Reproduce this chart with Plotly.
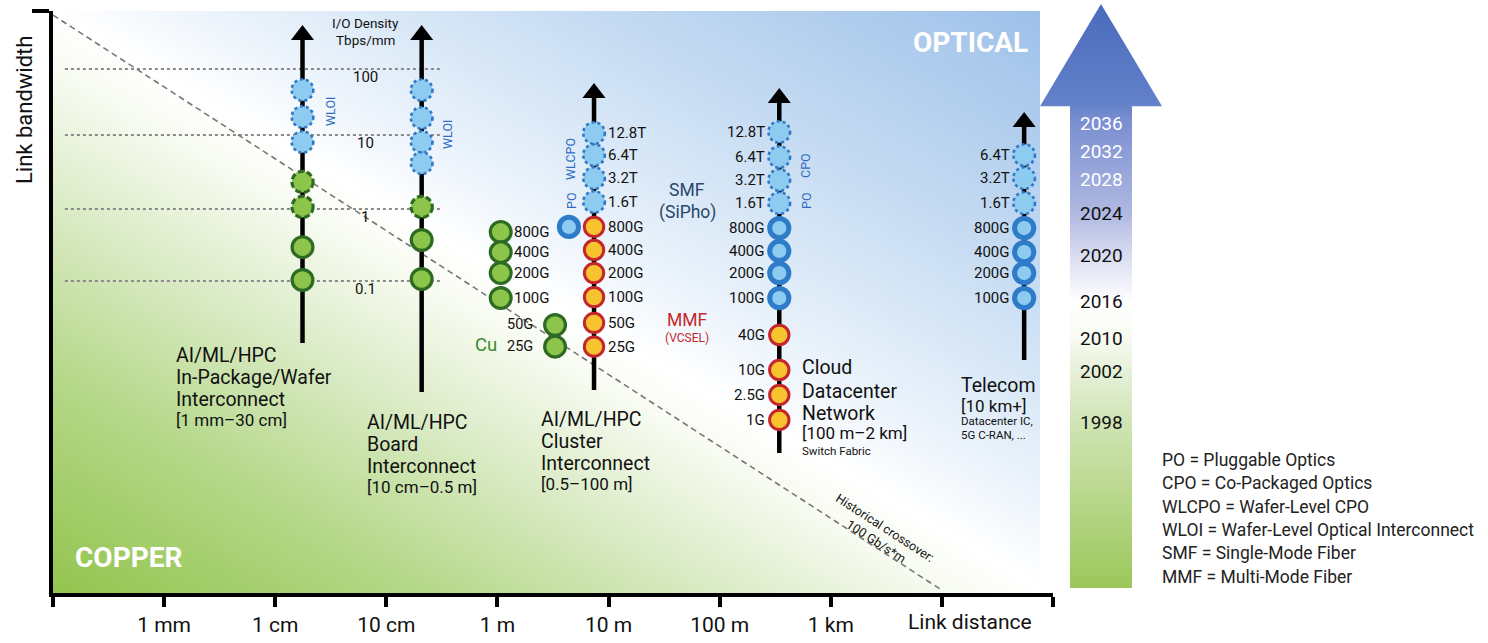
import numpy as np
import plotly.graph_objects as go

W, H = 1488, 643

# ---------------- data ----------------
# x axis: link distance in metres (drawn on a log10 scale)
axis_tick_m = [1e-4, 1e-3, 1e-2, 1e-1, 1, 10, 100, 1e3, 1e4, 1e5]
axis_tick_text = ["", "1 mm", "1 cm", "10 cm", "1 m", "10 m", "100 m", "1 km", "", ""]

# y axis: position on the "link bandwidth" axis, in doublings relative to 100 Gb/s
Y_MIN, Y_MAX = -12.35, 12.10

io_density_labels = ["100", "10", "1", "0.1"]          # Tbps/mm
io_density_level = [9.66, 6.89, 3.78, 0.76]
io_density_span_m = [1.28e-4, 0.304]
io_density_label_m = 0.0643

crossover_m = [1e-4, 1e4]                               # 100 Gb/s*m line
crossover_level = [11.93, -12.23]

wafer_m = 0.0176
wafer_level = [8.78, 7.65, 6.60, 4.92, 3.87, 2.18, 0.80]
wafer_kind = ["wloi", "wloi", "wloi", "cu_next", "cu_next", "cu", "cu"]
wafer_arrow = [-1.85, 11.09]

board_m = 0.208
board_level = [8.78, 7.61, 6.60, 5.71, 3.87, 2.48, 0.84]
board_kind = ["wloi", "wloi", "wloi", "wloi", "cu_next", "cu", "cu"]
board_arrow = [-3.91, 11.09]

cluster_cu_m = 1.07
cluster_cu_labels = ["800G", "400G", "200G", "100G"]
cluster_cu_level = [2.82, 1.97, 1.09, 0.04]

cluster_cu_short_m = 3.3
cluster_cu_short_labels = ["50G", "25G"]
cluster_cu_short_level = [-1.09, -2.0]

cluster_po_m = 4.4
cluster_po_level = [3.03]

cluster_m = 7.4
cluster_labels = ["12.8T", "6.4T", "3.2T", "1.6T", "800G", "400G", "200G", "100G", "50G", "25G"]
cluster_level = [6.97, 6.05, 5.08, 4.08, 3.03, 2.06, 1.09, 0.08, -1.0, -2.0]
cluster_kind = ["cpo"] * 4 + ["mmf"] * 6
cluster_arrow = [-3.82, 8.66]

dc_m = 344
dc_labels = ["12.8T", "6.4T", "3.2T", "1.6T", "800G", "400G", "200G", "100G", "40G", "10G", "2.5G", "1G"]
dc_level = [7.02, 5.97, 5.0, 4.03, 2.98, 2.02, 1.09, 0.04, -1.51, -2.98, -4.03, -5.08]
dc_kind = ["cpo"] * 4 + ["smf"] * 4 + ["mmf"] * 4
dc_arrow = [-6.47, 8.45]

telecom_m = 5.5e4
telecom_labels = ["6.4T", "3.2T", "1.6T", "800G", "400G", "200G", "100G"]
telecom_level = [6.05, 5.08, 4.03, 2.98, 1.97, 1.09, 0.04]
telecom_kind = ["cpo"] * 3 + ["smf"] * 4
telecom_arrow = [-2.56, 7.44]

years = ["2036", "2032", "2028", "2024", "2020", "2016", "2010", "2002", "1998"]
year_pos = [0.795, 0.747, 0.699, 0.642, 0.570, 0.491, 0.428, 0.370, 0.284]
year_white = [True, True, True, False, False, False, False, False, False]

glossary = ["PO = Pluggable Optics", "CPO = Co-Packaged Optics", "WLCPO = Wafer-Level CPO",
            "WLOI = Wafer-Level Optical Interconnect", "SMF = Single-Mode Fiber", "MMF = Multi-Mode Fiber"]

# ---------------- styles ----------------
STY = {
    "cu":      dict(fill="#8cc44c", line="#2d6a22", lw=3.2, dash="solid", r=10.4),
    "cu_next": dict(fill="#8cc44c", line="#2d6a22", lw=3.2, dash="6px,3px", r=10.6),
    "wloi":    dict(fill="#8ecbf1", line="#2f78c6", lw=2.6, dash="dot", r=10.8),
    "cpo":     dict(fill="#8ecbf1", line="#2f78c6", lw=2.6, dash="dot", r=10.8),
    "smf":     dict(fill="#8ecbf1", line="#2e7bc9", lw=5, dash="solid", r=9.6),
    "mmf":     dict(fill="#f7c32f", line="#c3272d", lw=3, dash="solid", r=9.7),
}
FONT = "Roboto"
BLUE_TXT = "#2f6dc3"

L = np.log10

fig = go.Figure()

# background gradient (copper -> optical)
gx = np.linspace(-4.1, 5.1, 80)
gy = np.linspace(Y_MIN - 0.2, Y_MAX + 0.2, 60)
U = (gx + 4) / 9.0
V = (gy - Y_MIN) / (Y_MAX - Y_MIN)
Z = np.clip((U[None, :] + V[:, None]) / 2.0, 0, 1)
fig.add_trace(go.Heatmap(
    x=gx, y=gy, z=Z, zmin=0, zmax=1, zsmooth="best", showscale=False, hoverinfo="skip",
    colorscale=[[0, "#93c44e"], [0.18, "#b3d786"], [0.33, "#d9eac3"], [0.45, "#f7fbf1"],
                [0.5, "#ffffff"], [0.58, "#ebf3fb"], [0.75, "#c8ddf3"], [1, "#9cc0e9"]],
))

# I/O density dotted guides
for lv in io_density_level:
    fig.add_trace(go.Scatter(x=L(io_density_span_m), y=[lv, lv], mode="lines",
                             line=dict(color="#8a8a8a", width=2, dash="dot"), hoverinfo="skip"))

# historical crossover line
fig.add_trace(go.Scatter(x=L(crossover_m), y=crossover_level, mode="lines",
                         line=dict(color="#777777", width=1.6, dash="6px,4px"), hoverinfo="skip"))

# vertical roadmap arrows
for xm, (lo, hi) in [(wafer_m, wafer_arrow), (board_m, board_arrow), (cluster_m, cluster_arrow),
                     (dc_m, dc_arrow), (telecom_m, telecom_arrow)]:
    fig.add_trace(go.Scatter(x=[L(xm), L(xm)], y=[lo, hi], mode="lines",
                             line=dict(color="#000000", width=4.5), hoverinfo="skip"))
    fig.add_trace(go.Scatter(x=[L(xm)], y=[hi], mode="markers",
                             marker=dict(symbol="triangle-up", size=20, color="#000000", line=dict(width=0)),
                             hoverinfo="skip"))

# big year arrow on the right (vertical gradient)
ax_pts = [(0.246, 0), (0.754, 0), (0.754, 0.825), (1, 0.825), (0.5, 1), (0, 0.825), (0.246, 0.825), (0.246, 0)]
fig.add_trace(go.Scatter(
    x=[p[0] for p in ax_pts], y=[p[1] for p in ax_pts], xaxis="x2", yaxis="y2",
    mode="lines", line=dict(width=0), fill="toself", hoverinfo="skip",
    fillgradient=dict(type="vertical", start=0, stop=1,
                      colorscale=[[0, "#9bc75a"], [0.28, "#cfe4b3"], [0.37, "#e6f0d8"], [0.43, "#f8fbf3"],
                                  [0.49, "#ffffff"], [0.57, "#d9dcf1"], [0.64, "#b0b9e2"], [0.80, "#7a8fd1"],
                                  [0.83, "#6381c9"], [1, "#4a6bbd"]]),
))

# ---------------- circles ----------------
shapes = []


def circ(xm, lv, kind):
    s = STY[kind]
    r = s["r"]
    shapes.append(dict(type="circle", xref="x", yref="y", xsizemode="pixel", ysizemode="pixel",
                       xanchor=L(xm), yanchor=lv, x0=-r, x1=r, y0=-r, y1=r,
                       fillcolor=s["fill"], line=dict(color=s["line"], width=s["lw"], dash=s["dash"]),
                       layer="above"))


for lv, k in zip(wafer_level, wafer_kind):
    circ(wafer_m, lv, k)
for lv, k in zip(board_level, board_kind):
    circ(board_m, lv, k)
for lv in cluster_cu_level:
    circ(cluster_cu_m, lv, "cu")
for lv in cluster_cu_short_level:
    circ(cluster_cu_short_m, lv, "cu")
for lv in cluster_po_level:
    circ(cluster_po_m, lv, "smf")
for lv, k in zip(cluster_level, cluster_kind):
    circ(cluster_m, lv, k)
for lv, k in zip(dc_level, dc_kind):
    circ(dc_m, lv, k)
for lv, k in zip(telecom_level, telecom_kind):
    circ(telecom_m, lv, k)

# ---------------- text ----------------
ann = []


def pt(txt, x, y, size, color="#111111", xanchor="left", angle=0, bold=False):
    if bold:
        txt = "<b>" + txt + "</b>"
    ann.append(dict(text=txt, x=x / W, y=1 - y / H, xref="paper", yref="paper", xanchor=xanchor,
                    yanchor="middle", showarrow=False, textangle=angle,
                    font=dict(family=FONT, size=size, color=color)))


def dt(txt, xm, lv, size, xanchor, xshift, yshift=0, color="#111111"):
    ann.append(dict(text=txt, x=L(xm), y=lv, xref="x", yref="y", xanchor=xanchor, yanchor="middle",
                    xshift=xshift, yshift=yshift, showarrow=False,
                    font=dict(family=FONT, size=size, color=color)))


# axis titles / regions
pt("Link bandwidth", 24, 110, 22, xanchor="center", angle=-90)
pt("Link distance", 970, 622, 21, xanchor="center")
pt("OPTICAL", 970, 42, 28, color="#ffffff", xanchor="center", bold=True)
pt("COPPER", 128, 557, 28, color="#ffffff", xanchor="center", bold=True)
pt("Historical crossover:<br>100 Gb/s*m", 881, 534, 12.5, xanchor="center", angle=33)

# I/O density
pt("I/O Density", 365, 23, 13.5, xanchor="center")
pt("Tbps/mm", 365, 40, 13.5, xanchor="center")
for t, lv in zip(io_density_labels, io_density_level):
    dt(t, io_density_label_m, lv, 15, "center", 0, yshift=-8)

# rotated technology tags
pt("WLOI", 330, 112, 12.5, color=BLUE_TXT, xanchor="center", angle=-90)
pt("WLOI", 447, 135, 12.5, color=BLUE_TXT, xanchor="center", angle=-90)
pt("WLCPO", 571, 159, 12.5, color=BLUE_TXT, xanchor="center", angle=-90)
pt("PO", 571, 201, 12.5, color=BLUE_TXT, xanchor="center", angle=-90)
pt("CPO", 806, 166, 12.5, color=BLUE_TXT, xanchor="center", angle=-90)
pt("PO", 806, 201, 12.5, color=BLUE_TXT, xanchor="center", angle=-90)

pt("SMF", 687, 190, 17.5, color="#29486b", xanchor="center")
pt("(SiPho)", 687, 212, 17.5, color="#29486b", xanchor="center")
pt("MMF", 687, 320, 17.5, color="#c3272d", xanchor="center")
pt("(VCSEL)", 687, 338, 12, color="#c3272d", xanchor="center")
pt("Cu", 486, 345, 18.5, color="#3b8b2b", xanchor="center")

# bandwidth labels
for t, lv in zip(cluster_cu_labels, cluster_cu_level):
    dt(t, cluster_cu_m, lv, 15, "left", 11)
for t, lv in zip(cluster_cu_short_labels, cluster_cu_short_level):
    dt(t, cluster_cu_short_m, lv, 14.5, "right", -20)
for t, lv in zip(cluster_labels, cluster_level):
    dt(t, cluster_m, lv, 15, "left", 12)
for t, lv in zip(dc_labels, dc_level):
    dt(t, dc_m, lv, 15, "right", -12)
for t, lv in zip(telecom_labels, telecom_level):
    dt(t, telecom_m, lv, 15, "right", -12)

# column descriptions
for t, y, s in [("AI/ML/HPC", 355, 19.5), ("In-Package/Wafer", 377, 19.5), ("Interconnect", 399, 19.5),
                ("[1 mm\u201330 cm]", 420, 17)]:
    pt(t, 174, y, s)
for t, y, s in [("AI/ML/HPC", 422, 19.5), ("Board", 444, 19.5), ("Interconnect", 466, 19.5),
                ("[10 cm\u20130.5 m]", 487, 17)]:
    pt(t, 365, y, s)
for t, y, s in [("AI/ML/HPC", 419, 19.5), ("Cluster", 441, 19.5), ("Interconnect", 463, 19.5),
                ("[0.5\u2013100 m]", 484, 17)]:
    pt(t, 539, y, s)
for t, y, s in [("Cloud", 367, 19.5), ("Datacenter", 391, 19.5), ("Network", 413, 19.5),
                ("[100 m\u20132 km]", 433, 17), ("Switch Fabric", 451, 11.5)]:
    pt(t, 800, y, s)
for t, y, s in [("Telecom", 385, 19.5), ("[10 km+]", 406, 17), ("Datacenter IC,", 421, 11.5),
                ("5G C-RAN, ...", 435, 11.5)]:
    pt(t, 959, y, s)

# years on the arrow
for t, p, wht in zip(years, year_pos, year_white):
    ann.append(dict(text=t, x=0.5, y=p, xref="x2", yref="y2", xanchor="center", yanchor="middle",
                    showarrow=False, font=dict(family=FONT, size=19, color="#ffffff" if wht else "#111111")))

# glossary
for i, t in enumerate(glossary):
    pt(t, 1160, 460 + i * 23.3, 17.5, color="#222222")

fig.update_layout(
    width=W, height=H, margin=dict(l=0, r=0, t=0, b=0),
    paper_bgcolor="#ffffff", plot_bgcolor="#ffffff", showlegend=False, hovermode=False,
    xaxis=dict(domain=[53 / W, 1053 / W], range=[-4, 5], anchor="y",
               showgrid=False, zeroline=False, showline=True, linewidth=4, linecolor="#000000",
               ticks="outside", ticklen=10, tickwidth=3.5, tickcolor="#000000",
               tickvals=L(axis_tick_m), ticktext=axis_tick_text,
               tickfont=dict(family=FONT, size=21, color="#111111")),
    yaxis=dict(domain=[1 - 593 / H, 1 - 11 / H], range=[Y_MIN, Y_MAX], anchor="x",
               showgrid=False, zeroline=False, showline=True, linewidth=4, linecolor="#000000",
               ticks="outside", ticklen=17, tickwidth=4, tickcolor="#000000",
               tickvals=[Y_MAX], showticklabels=False),
    xaxis2=dict(domain=[1040 / W, 1162 / W], range=[0, 1], anchor="y2", visible=False),
    yaxis2=dict(domain=[1 - 588 / H, 1 - 4 / H], range=[0, 1], anchor="x2", visible=False),
    shapes=shapes, annotations=ann,
)

fig.write_html("out.html", config={"displayModeBar": False},
               post_script="document.body.style.margin='0px';document.body.style.overflow='hidden';")
